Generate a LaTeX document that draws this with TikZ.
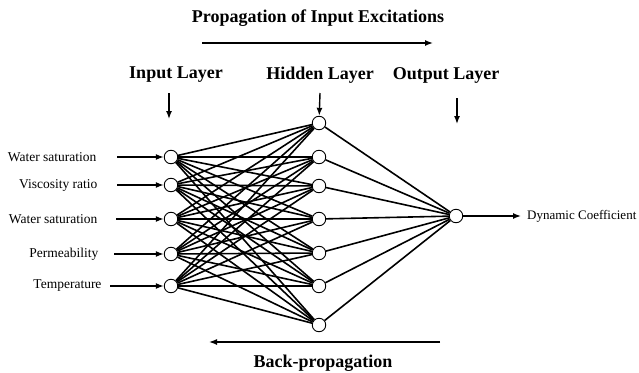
\documentclass[tikz,border=0pt]{standalone}
\usepackage{fontspec}
\setmainfont{Liberation Serif}
\usetikzlibrary{arrows.meta}
\begin{document}
\begin{tikzpicture}[x=1pt,y=-1pt,
  neuron/.style={circle,draw,fill=white,line width=0.9pt,minimum size=13.5pt,inner sep=0pt},
  conn/.style={line width=1.6pt},
  arr/.style={line width=1.4pt,-{Latex[length=8pt,width=6pt]}},
  small/.style={font=\fontsize{13.5}{15}\selectfont},
  big/.style={font=\fontsize{18}{21}\selectfont\bfseries}]
\useasboundingbox (0,0) rectangle (639,372);
% input nodes
\foreach \i/\y in {1/157,2/185,3/219,4/254,5/286}
  \node[neuron] (i\i) at (171,\y) {};
% hidden nodes
\foreach \j/\y in {1/123,2/157,3/186,4/219,5/253,6/286,7/325}
  \node[neuron] (h\j) at (319,\y) {};
% output node
\node[neuron] (o) at (456,216) {};
% connections
\foreach \i in {1,...,5}
  \foreach \j in {1,...,7}
    \draw[conn] (i\i) -- (h\j);
\foreach \j in {1,...,7}
  \draw[conn] (h\j) -- (o);
% input labels
\node[small,anchor=east] (l1) at (100,157) {Water saturation};
\node[small,anchor=east] (l2) at (101,185) {Viscosity ratio};
\node[small,anchor=east] (l3) at (101,219) {Water saturation};
\node[small,anchor=east] (l4) at (102,254) {Permeability};
\node[small,anchor=east] (l5) at (105,286) {Temperature};
\coordinate (s1) at (117,157);
\coordinate (s2) at (117,185);
\coordinate (s3) at (116,219);
\coordinate (s4) at (114,254);
\coordinate (s5) at (110,286);
\foreach \i in {1,...,5}
  \draw[arr] (s\i) -- (i\i);
% output
\node[font=\fontsize{13}{15}\selectfont,anchor=west,inner sep=1pt] (dc) at (526,216) {Dynamic Coefficient};
\draw[arr,shorten >=5pt] (o) -- (dc);
% layer labels
\node[big] (tin) at (176,75) {Input Layer};
\node[big] (thid) at (320,75) {Hidden Layer};
\node[big] (tout) at (446,75) {Output Layer};
\coordinate (ain) at (169,93);
\coordinate (aine) at (169,119);
\draw[arr] (ain) -- (aine);
\coordinate (ahid) at (320,93);
\draw[arr] (ahid) -- (h1);
\coordinate (aout) at (457,98);
\coordinate (aoute) at (457,124);
\draw[arr] (aout) -- (aoute);
% titles
\node[big] (title) at (318,18) {Propagation of Input Excitations};
\coordinate (f1) at (202,43);
\coordinate (f2) at (433,43);
\draw[arr] (f1) -- (f2);
\coordinate (b1) at (440,342);
\coordinate (b2) at (209,342);
\draw[arr] (b1) -- (b2);
\node[big] (bp) at (323,363) {Back-propagation};
\end{tikzpicture}
\end{document}
